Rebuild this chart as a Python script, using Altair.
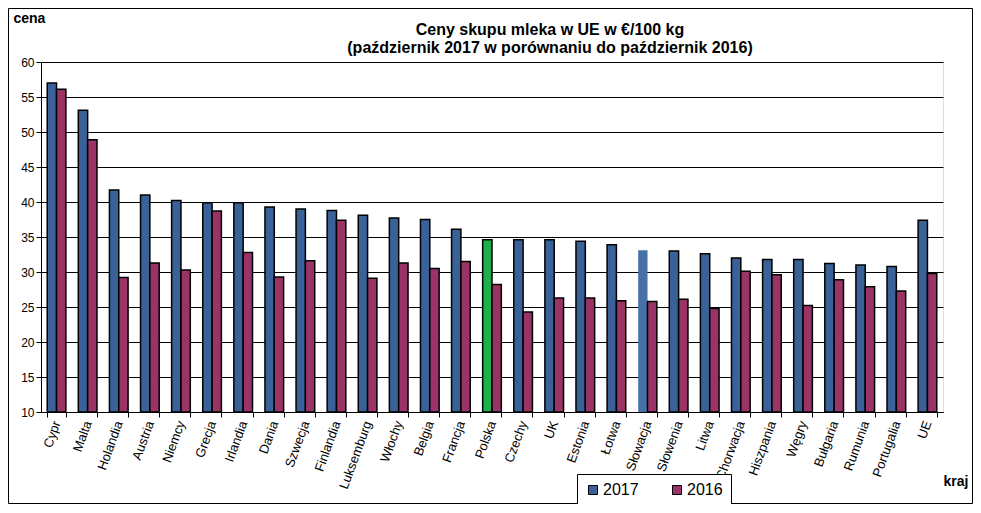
import altair as alt
import pandas as pd

kraje = ["Cypr", "Malta", "Holandia", "Austria", "Niemcy", "Grecja", "Irlandia", "Dania",
         "Szwecja", "Finlandia", "Luksemburg", "Włochy", "Belgia", "Francja", "Polska",
         "Czechy", "UK", "Estonia", "Łotwa", "Słowacja", "Słowenia", "Litwa", "Chorwacja",
         "Hiszpania", "Węgry", "Bułgaria", "Rumunia", "Portugalia", "UE"]
ceny_2017 = [57.0, 53.1, 41.7, 41.0, 40.2, 39.9, 39.9, 39.3, 39.0, 38.8, 38.1, 37.7, 37.5,
             36.1, 34.6, 34.6, 34.6, 34.4, 33.9, 33.1, 33.0, 32.6, 32.0, 31.8, 31.8, 31.2,
             31.0, 30.8, 37.4]
ceny_2016 = [56.1, 48.9, 29.2, 31.3, 30.3, 38.7, 32.8, 29.3, 31.6, 37.4, 29.1, 31.3, 30.5,
             31.5, 28.2, 24.3, 26.3, 26.3, 25.9, 25.8, 26.1, 24.8, 30.1, 29.6, 25.2, 28.9,
             27.9, 27.3, 29.8]
lata = ["2017", "2016"]
kolory = ["#3B6298", "#9B3466"]

rows = []
for k, a, b in zip(kraje, ceny_2017, ceny_2016):
    rows.append({"kraj": k, "rok": "2017", "cena": a})
    rows.append({"kraj": k, "rok": "2016", "cena": b})
df = pd.DataFrame(rows)

FONT = "Liberation Sans"

color = alt.Color(
    "rok:N", sort=lata,
    scale=alt.Scale(domain=lata, range=kolory),
    title=None,
    condition=[
        {"test": "datum.kraj == 'Polska' && datum.rok == '2017'", "value": "#1DB04C"},
        {"test": "datum.kraj == 'Słowacja' && datum.rok == '2017'", "value": "#4670A6"},
    ],
    legend=alt.Legend(orient="none", legendX=536, legendY=412,
                      direction="horizontal", symbolType="square",
                      symbolSize=81, symbolStrokeColor="black",
                      symbolStrokeWidth=1, labelFontSize=16,
                      labelFont=FONT, labelColor="black",
                      padding=8, strokeColor="black",
                      fillColor="white", columnPadding=30,
                      labelOffset=2),
)
stroke_w = (
    alt.when("datum.kraj == 'Słowacja' && datum.rok == '2017'").then(alt.value(0))
    .otherwise(alt.value(1.5))
)

bars = alt.Chart(df).mark_bar(stroke="black").encode(
    x=alt.X("kraj:N", sort=kraje,
            scale=alt.Scale(paddingInner=0.4, paddingOuter=0.2),
            axis=alt.Axis(tickBand="extent", labelAngle=-70, labelAlign="right",
                          labelBaseline="middle", labelFontSize=13, labelFont=FONT,
                          labelColor="black", labelPadding=4, tickColor="black",
                          tickSize=5, domainColor="black", grid=False,
                          title="kraj", titleX=902, titleY=73, titleAngle=0,
                          titleAlign="left", titleBaseline="alphabetic",
                          titleFontSize=14, titleFontWeight="bold", titleFont=FONT,
                          titleColor="black")),
    xOffset=alt.XOffset("rok:N", sort=lata, scale=alt.Scale(paddingInner=0, paddingOuter=0)),
    y=alt.Y("cena:Q", scale=alt.Scale(domain=[10, 60], nice=False, zero=False),
            axis=alt.Axis(values=list(range(10, 61, 5)), labelFontSize=12, labelFont=FONT,
                          labelColor="black", tickColor="black", tickSize=5,
                          domainColor="black", grid=True, gridColor="black",
                          gridOpacity=1, labelPadding=2,
                          title="cena", titleAngle=0, titleX=-28, titleY=-40,
                          titleAlign="left", titleBaseline="alphabetic",
                          titleFontSize=14, titleFontWeight="bold", titleFont=FONT,
                          titleColor="black")),
    y2=alt.datum(10),
    color=color,
    strokeWidth=stroke_w,
)

frame = alt.Chart(pd.DataFrame({"a": [0]})).mark_rect(
    fillOpacity=0, stroke="black", strokeWidth=1
).encode(
    x=alt.value(-32.5), x2=alt.value(931.5), y=alt.value(-53.5), y2=alt.value(441.5)
)

chart = alt.layer(bars, frame).properties(
    width=902, height=350,
    padding={"left": 33, "top": 54, "right": 30, "bottom": 92},
    autosize=alt.AutoSizeParams(type="none"),
    background="white",
    title=alt.Title(text=["Ceny skupu mleka  w UE w €/100 kg",
                          "(październik 2017 w porównaniu do październik 2016)"],
                    fontSize=16, font=FONT, fontWeight="bold", color="black",
                    anchor="middle", dx=58, dy=56, offset=8, lineHeight=18),
).configure_view(
    fill="#FFFFCC", stroke="black", strokeWidth=1
).configure(font=FONT)

chart.save("out.html", embed_options={"renderer": "svg", "actions": False})
